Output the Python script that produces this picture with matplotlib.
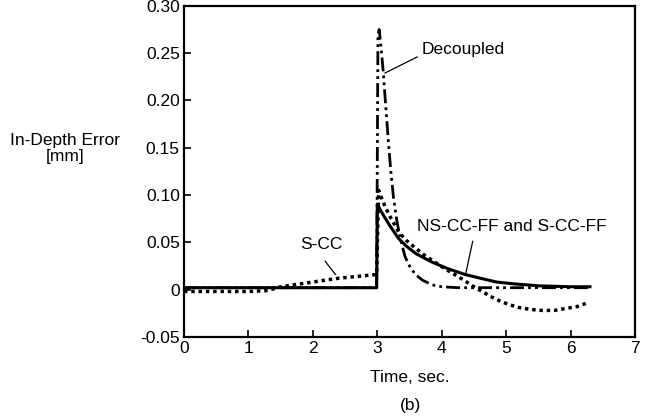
import numpy as np
import matplotlib
matplotlib.use("Agg")
import matplotlib.pyplot as plt

plt.rcParams['font.family'] = ['Liberation Sans', 'DejaVu Sans']

# NS-CC-FF and S-CC-FF (solid)
t_ff = [0, 2.99, 3.0, 3.05, 3.1, 3.2, 3.33, 3.45, 3.6, 3.85, 4.1, 4.36, 4.6, 4.85,
        5.13, 5.5, 6.0, 6.3]
e_ff = [0.002, 0.002, 0.090, 0.084, 0.078, 0.067, 0.054, 0.046, 0.038, 0.029, 0.022,
        0.016, 0.012, 0.008, 0.006, 0.004, 0.003, 0.003]

# S-CC (dotted)
t_scc = [0, 0.5, 1.0, 1.3, 1.5, 2.0, 2.4, 2.7, 2.99, 3.02, 3.07, 3.12, 3.2, 3.33,
         3.45, 3.59, 3.72, 3.85, 4.05, 4.25, 4.5, 4.65, 4.78, 4.9, 5.05, 5.2, 5.38,
         5.55, 5.75, 5.92, 6.1, 6.26]
e_scc = [-0.002, -0.002, -0.002, -0.001, 0.003, 0.008, 0.012, 0.014, 0.016, 0.105,
         0.096, 0.088, 0.077, 0.061, 0.052, 0.044, 0.037, 0.031, 0.022, 0.014, 0.003,
         -0.003, -0.008, -0.012, -0.016, -0.019, -0.021, -0.022, -0.022, -0.020,
         -0.018, -0.014]

# Decoupled (dash-dot-dot)
t_dec = [0, 2.99, 3.01, 3.03, 3.06, 3.09, 3.13, 3.17, 3.21, 3.25, 3.3, 3.36, 3.43,
         3.5, 3.59, 3.7, 3.85, 4.0, 4.25, 4.7, 5.5, 6.3]
e_dec = [0.002, 0.002, 0.270, 0.275, 0.255, 0.232, 0.195, 0.158, 0.125, 0.098, 0.074,
         0.053, 0.035, 0.025, 0.016, 0.010, 0.005, 0.003, 0.002, 0.002, 0.002, 0.002]

yticks = [-0.05, 0, 0.05, 0.10, 0.15, 0.20, 0.25, 0.30]
ylabels = ['-0.05', '0', '0.05', '0.10', '0.15', '0.20', '0.25', '0.30']

fig = plt.figure(figsize=(6.49, 4.19), dpi=100)
ax = fig.add_axes([0.2835, 0.196, 0.695, 0.79])

ax.plot(t_dec, e_dec, color='black', lw=2.0, linestyle=(0, (5, 1.5, 1, 1.5, 1, 1.5)))
ax.plot(t_scc, e_scc, color='black', lw=2.5, linestyle=(0, (1, 1.1)))
ax.plot(t_ff, e_ff, color='black', lw=2.2)

ax.set_xlim(0, 7)
ax.set_ylim(-0.05, 0.30)
ax.set_xticks(range(8))
ax.set_yticks(yticks)
ax.set_yticklabels(ylabels)
ax.tick_params(direction='in', length=5, width=1.2, labelsize=12.5)
ax.tick_params(axis='x', pad=3)
ax.tick_params(axis='y', pad=3)
for s in ax.spines.values():
    s.set_linewidth(1.6)

fs = 12.5
ax.text(3.69, 0.254, 'Decoupled', fontsize=fs, va='center')
ax.plot([3.62, 3.12], [0.246, 0.229], color='black', lw=0.9)
ax.text(1.81, 0.048, 'S-CC', fontsize=fs, va='center')
ax.plot([2.19, 2.35], [0.030, 0.016], color='black', lw=0.9)
ax.text(3.62, 0.067, 'NS-CC-FF and S-CC-FF', fontsize=fs, va='center')
ax.plot([4.48, 4.37], [0.051, 0.016], color='black', lw=0.9)

fig.text(0.10, 0.645, 'In-Depth Error\n[mm]', fontsize=12.5, ha='center', va='center',
         linespacing=1.1)
fig.text(0.632, 0.10, 'Time, sec.', fontsize=fs, ha='center', va='center')
fig.text(0.632, 0.033, '(b)', fontsize=fs, ha='center', va='center')

fig.savefig('out.png', dpi=100)
